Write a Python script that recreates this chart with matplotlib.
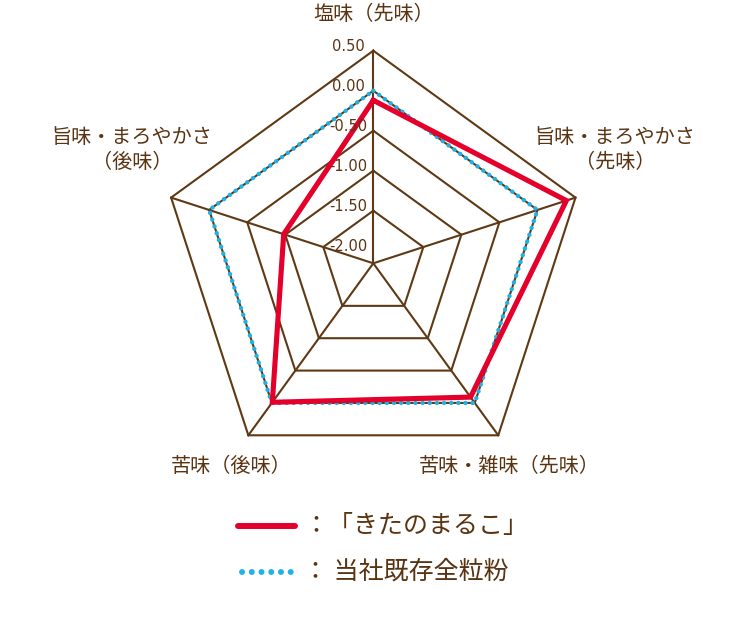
import numpy as np
import matplotlib
matplotlib.use('Agg')
import matplotlib.pyplot as plt
from matplotlib.lines import Line2D

plt.rcParams['font.family'] = ['Noto Sans CJK JP', 'DejaVu Sans']

# ---- data ----
categories = ['塩味（先味）', '旨味・まろやかさ\n（先味）', '苦味・雑味（先味）', '苦味（後味）', '旨味・まろやかさ\n（後味）']
kitanomaruko = [-0.12, 0.38, -0.09, -0.01, -0.98]
existing = [0.0, 0.0, 0.0, 0.0, 0.0]
ring_values = [0.5, 0.0, -0.5, -1.0, -1.5]
tick_values = [0.5, 0.0, -0.5, -1.0, -1.5, -2.0]
tick_labels = ['0.50', '0.00', '-0.50', '-1.00', '-1.50', '-2.00']
series_labels = ['：「きたのまるこ」', '： 当社既存全粒粉']

BROWN = '#5e3914'
TEXT = '#5a3412'
RED = '#e5002b'
BLUE = '#1db2e8'

W, H = 750, 618
fig = plt.figure(figsize=(W / 100, H / 100), dpi=100)
cx, cy, R = 373.3, 263.3, 212.6
ax = fig.add_axes([(cx - R) / W, (H - cy - R) / H, 2 * R / W, 2 * R / H], projection='polar')
ax.set_theta_zero_location('N')
ax.set_theta_direction(-1)
ax.set_ylim(-2.1575, 0.5)
ax.axis('off')
rmin = ax.get_ylim()[0]

n = len(categories)
theta = np.deg2rad(np.arange(n) * 360.0 / n)
th_c = np.append(theta, theta[0])

# grid rings
for v in ring_values:
    ax.plot(th_c, [v] * (n + 1), color=BROWN, lw=1.5, clip_on=False, solid_joinstyle='miter', zorder=1)
# spokes
for t in theta:
    ax.plot([t, t], [rmin, ring_values[0]], color=BROWN, lw=1.5, clip_on=False, zorder=1)

# series
ax.plot(th_c, existing + existing[:1], color=BLUE, lw=3.2, linestyle=(0, (0.01, 1.6)),
        dash_capstyle='round', clip_on=False, zorder=3)
ax.plot(th_c, kitanomaruko + kitanomaruko[:1], color=RED, lw=3.7, clip_on=False,
        solid_joinstyle='miter', zorder=4)

# tick labels
for v, lab in zip(tick_values, tick_labels):
    ax.annotate(lab, xy=(0, v), xytext=(-25, 4.5), textcoords='offset pixels', ha='center', va='center',
                fontsize=10.5, color=TEXT, family=['DejaVu Sans'], annotation_clip=False, zorder=5)

# category labels (pixel positions)
label_pos = [(374, 14), (615, 150), (509, 466), (231, 466), (132, 150)]
for lab, (px, py) in zip(categories, label_pos):
    fig.text(px / W, 1 - py / H, lab, ha='center', va='center', fontsize=14.5, color=TEXT,
             linespacing=1.25, multialignment='center')

# legend
fig.add_artist(Line2D([238 / W, 295 / W], [1 - 526 / H] * 2, color=RED, lw=4.3, solid_capstyle='round'))
fig.add_artist(Line2D([242 / W, 291 / W], [1 - 572 / H] * 2, color=BLUE, lw=4.3,
                      linestyle=(0, (0.01, 1.62)), dash_capstyle='round'))
fig.text(303 / W, 1 - 526 / H, series_labels[0], ha='left', va='center', fontsize=18, color=TEXT)
fig.text(303 / W, 1 - 572 / H, series_labels[1], ha='left', va='center', fontsize=18, color=TEXT)

fig.savefig('out.png', dpi=100)
